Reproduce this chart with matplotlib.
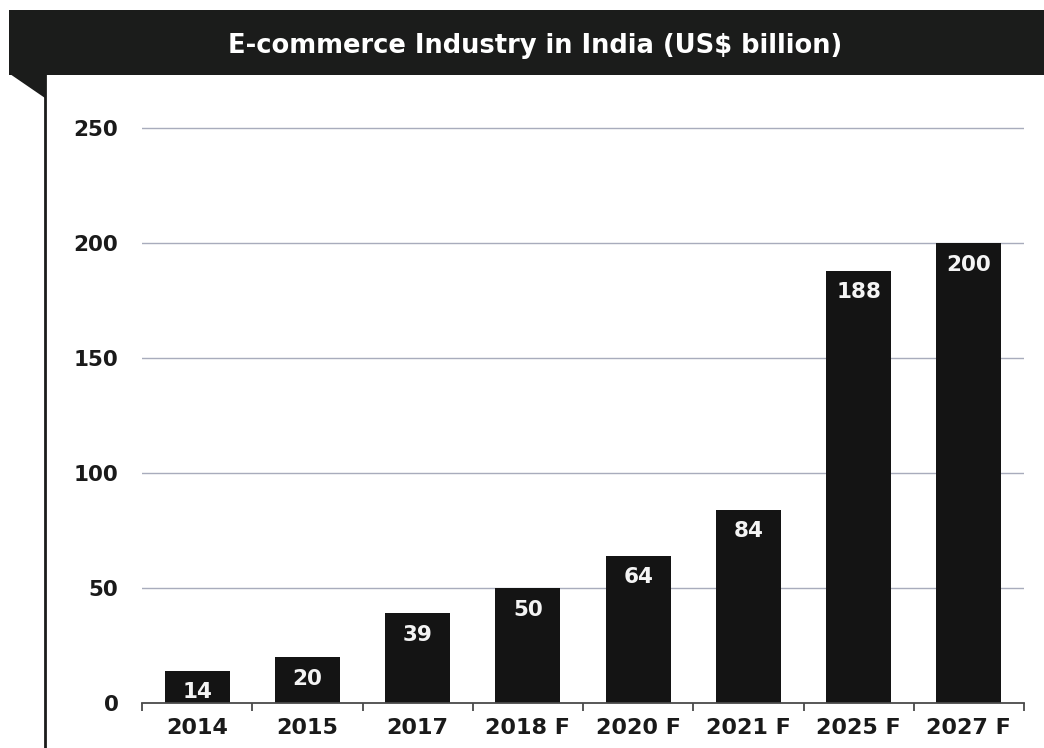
import matplotlib
matplotlib.use("Agg")
import matplotlib.pyplot as plt
from matplotlib.patches import Rectangle, Polygon
from matplotlib.lines import Line2D

categories = ["2014", "2015", "2017", "2018 F", "2020 F", "2021 F", "2025 F", "2027 F"]
values = [14, 20, 39, 50, 64, 84, 188, 200]
yticks = [0, 50, 100, 150, 200, 250]
title = "E-commerce Industry in India (US$ billion)"

plt.rcParams['font.family'] = ['DejaVu Sans']

W, H = 1044, 748
fig = plt.figure(figsize=(W / 100, H / 100), dpi=100)
fig.patch.set_facecolor('white')

def fx(px):
    return px / W

def fy(py):
    return 1 - py / H

# header band
dark = '#1b1c1b'
fig.patches.append(Rectangle((fx(9), fy(75)), fx(1044 - 9), fy(10) - fy(75),
                             transform=fig.transFigure, facecolor=dark,
                             edgecolor='none', zorder=0))
fig.patches.append(Polygon([(fx(10), fy(74)), (fx(45), fy(74)), (fx(45), fy(98))],
                           closed=True, transform=fig.transFigure,
                           facecolor=dark, edgecolor='none', zorder=0))
fig.lines.append(Line2D([fx(44.5), fx(44.5)], [fy(74), fy(748)],
                        transform=fig.transFigure, color='#1b1c1b', lw=2))
fig.text(fx(535), fy(46), title, color='white', fontsize=18.5, fontweight='bold',
         ha='center', va='center')

# axes
left, right = 142, 1024
bottom_px = 703
ymax = 260
ppu = 575 / 250
top_px = bottom_px - ymax * ppu
ax = fig.add_axes([fx(left), fy(bottom_px), fx(right - left), fy(top_px) - fy(bottom_px)])
ax.set_facecolor('none')

x = list(range(len(categories)))
bars = ax.bar(x, values, width=0.59, color='#141414', zorder=2)
ax.set_xlim(-0.5, len(categories) - 0.5)
ax.set_ylim(0, ymax)

for xi, v in zip(x, values):
    ax.annotate(str(v), (xi, v), xytext=(0, -15.5), textcoords='offset points',
                ha='center', va='center', color='#f4f4f4', fontsize=15.5,
                fontweight='bold', zorder=3)

ax.set_yticks(yticks)
ax.set_yticklabels([str(t) for t in yticks])
ax.set_xticks(x)
ax.set_xticklabels(categories)
ax.set_xticks([i - 0.5 for i in range(len(categories) + 1)], minor=True)

for yv in yticks[1:]:
    ax.axhline(yv, color='#a8acbc', lw=1.0, zorder=1)

for s in ['top', 'right', 'left']:
    ax.spines[s].set_visible(False)
ax.spines['bottom'].set_color('#4a4a4a')
ax.spines['bottom'].set_linewidth(1.3)

ax.tick_params(axis='x', which='major', length=0, pad=11, labelsize=16,
               labelcolor='#1a1a1a')
ax.tick_params(axis='x', which='minor', length=6, width=1.3, color='#4a4a4a',
               direction='out')
ax.tick_params(axis='y', length=0, pad=17, labelsize=15.5, labelcolor='#1a1a1a')
for lab in ax.get_xticklabels() + ax.get_yticklabels():
    lab.set_fontweight('bold')

fig.savefig('out.png', dpi=100, facecolor='white')
